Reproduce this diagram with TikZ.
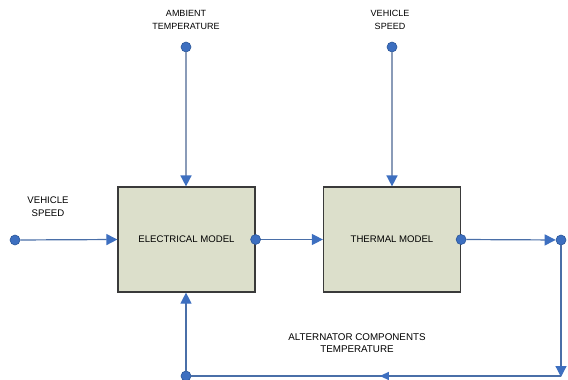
\documentclass[tikz,border=0pt]{standalone}
\usepackage{fontspec}
\setmainfont{Liberation Sans}
\usetikzlibrary{arrows.meta,decorations.markings}
\definecolor{dotblue}{HTML}{3D6FC0}
\definecolor{dotedge}{HTML}{2A5699}
\definecolor{linkblue}{HTML}{4A6FA8}
\definecolor{linkgray}{HTML}{8A9BB8}
\definecolor{boxfill}{HTML}{DCDFCB}
\definecolor{boxedge}{HTML}{3A3A3A}
\tikzset{
  port/.style={circle,fill=dotblue,draw=dotedge,line width=0.6pt,inner sep=0pt,minimum size=10pt},
  model/.style={rectangle,fill=boxfill,draw=boxedge,line width=1.2pt,minimum width=137pt,minimum height=105pt,inner sep=0pt,font=\fontsize{9.6}{11}\selectfont},
  lbl/.style={align=center,inner sep=0pt},
  link/.style={draw=linkblue,line width=1.2pt},
  feed/.style={draw=linkgray,line width=1.6pt},
  tip/.style={-{Triangle[length=11pt,width=11pt,fill=dotblue,color=dotblue]}},
  midtip/.style={postaction={decorate},decoration={markings,mark=at position 0.49 with {\arrow{Triangle[length=9pt,width=8pt,fill=dotblue,color=dotblue]}}}}
}
\begin{document}
\begin{tikzpicture}[x=1pt,y=-1pt]
\useasboundingbox (0,0) rectangle (568,380);
% models
\node[model] (elec) at (186.5,239.5) {ELECTRICAL MODEL};
\node[model] (therm) at (392,239.5) {THERMAL MODEL};
% labels
\node[lbl,font=\fontsize{9}{13}\selectfont] (ambl) at (186,19.5) {AMBIENT\\TEMPERATURE};
\node[lbl,font=\fontsize{9}{13}\selectfont] (vsl1) at (390,19.5) {VEHICLE\\SPEED};
\node[lbl,font=\fontsize{9.6}{13}\selectfont] (vsl2) at (48,206.5) {VEHICLE\\SPEED};
\node[lbl,font=\fontsize{9.8}{12.5}\selectfont] (altl) at (357,343) {ALTERNATOR COMPONENTS\\TEMPERATURE};
% ports
\node[port] (amb) at (186,47) {};
\node[port] (vs1) at (392,47) {};
\node[port] (vs2) at (15,240) {};
\node[port] (eout) at (elec.east) {};
\node[port] (tout) at (therm.east) {};
\node[port] (fb) at (561,240) {};
\node[port] (bl) at (186,376) {};
\coordinate (corner) at (561,376);
% connectors
\draw[feed,tip] (amb) -- (elec.north -| amb);
\draw[feed,tip] (vs1) -- (therm.north -| vs1);
\draw[link,tip] (vs2) -- (elec.west);
\draw[link,tip] (eout) -- (therm.west);
\draw[link,tip] (tout) -- (fb);
\draw[link,tip,shorten >=-1pt] (fb) -- (corner);
\draw[link,midtip] (corner) -- (bl);
\draw[link,tip] (bl) -- (elec.south -| bl);
\end{tikzpicture}
\end{document}
